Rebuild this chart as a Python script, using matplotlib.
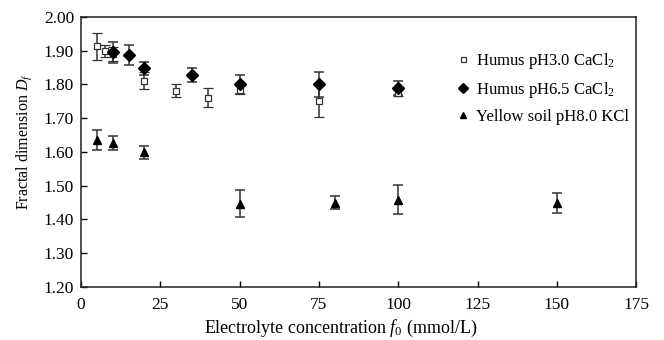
import matplotlib
matplotlib.use("Agg")
import matplotlib.pyplot as plt
from matplotlib.ticker import FormatStrFormatter

plt.rcParams['font.family'] = ['Liberation Serif', 'DejaVu Serif']
plt.rcParams['mathtext.fontset'] = 'custom'
plt.rcParams['mathtext.rm'] = 'Liberation Serif'
plt.rcParams['mathtext.it'] = 'Liberation Serif:italic'

# Humus pH3.0, CaCl2
x_h3 = [5, 7.5, 10, 20, 30, 40, 50, 75, 100]
y_h3 = [1.913, 1.898, 1.89, 1.811, 1.782, 1.761, 1.783, 1.752, 1.775]
e_h3 = [0.040, 0.018, 0.02, 0.025, 0.018, 0.029, 0.012, 0.048, 0.010]

# Humus pH6.5, CaCl2
x_h6 = [10, 15, 20, 35, 50, 75, 100]
y_h6 = [1.896, 1.888, 1.848, 1.828, 1.800, 1.800, 1.790]
e_h6 = [0.031, 0.030, 0.020, 0.020, 0.028, 0.038, 0.020]

# Yellow soil pH8.0, KCl
x_ys = [5, 10, 20, 50, 80, 100, 150]
y_ys = [1.636, 1.627, 1.599, 1.447, 1.450, 1.459, 1.448]
e_ys = [0.030, 0.020, 0.020, 0.040, 0.020, 0.042, 0.030]

fig = plt.figure(figsize=(6.64, 3.4), dpi=100)
ax = fig.add_axes([0.122, 0.156, 0.836, 0.794])

err_kw = dict(ls='none', ecolor='#333333', elinewidth=1.1, capsize=3.8, capthick=1.1)
c1 = ax.errorbar(x_h3, y_h3, yerr=e_h3, marker='s', ms=4.5, mfc='white', mec='#333333',
                 mew=0.9, label='Humus pH3.0 CaCl$_2$', **err_kw)
c2 = ax.errorbar(x_h6, y_h6, yerr=e_h6, marker='D', ms=6, mfc='black', mec='black',
                 label='Humus pH6.5 CaCl$_2$', **err_kw)
c3 = ax.errorbar(x_ys, y_ys, yerr=e_ys, marker='^', ms=6, mfc='black', mec='black',
                 label='Yellow soil pH8.0 KCl', **err_kw)

ax.set_xlim(0, 175)
ax.set_ylim(1.20, 2.00)
ax.set_xticks(range(0, 176, 25))
ax.set_yticks([1.2 + 0.1 * i for i in range(9)])
ax.yaxis.set_major_formatter(FormatStrFormatter('%.2f'))
ax.tick_params(direction='in', length=4, width=1, labelsize=12.5, top=False, right=False)
ax.tick_params(axis='x', pad=7)
ax.tick_params(axis='y', pad=5)
for s in ax.spines.values():
    s.set_linewidth(1.1)
    s.set_color('#222222')

ax.set_xlabel('Electrolyte concentration $f_0$ (mmol/L)', fontsize=13)
ax.xaxis.set_label_coords(0.468, -0.115)
ax.set_ylabel('Fractal dimension $D_f$', fontsize=11.5)
ax.yaxis.set_label_coords(-0.085, 0.537)

# legend shows markers only, no error bars
handles = [c[0] for c in (c1, c2, c3)]
labels = [c.get_label() for c in (c1, c2, c3)]
ax.legend(handles, labels, loc='upper left', bbox_to_anchor=(0.65, 0.93), frameon=False,
          fontsize=12, handlelength=0.7, handletextpad=0.45, labelspacing=0.55,
          markerscale=0.8)

fig.savefig('out.png', dpi=100)
